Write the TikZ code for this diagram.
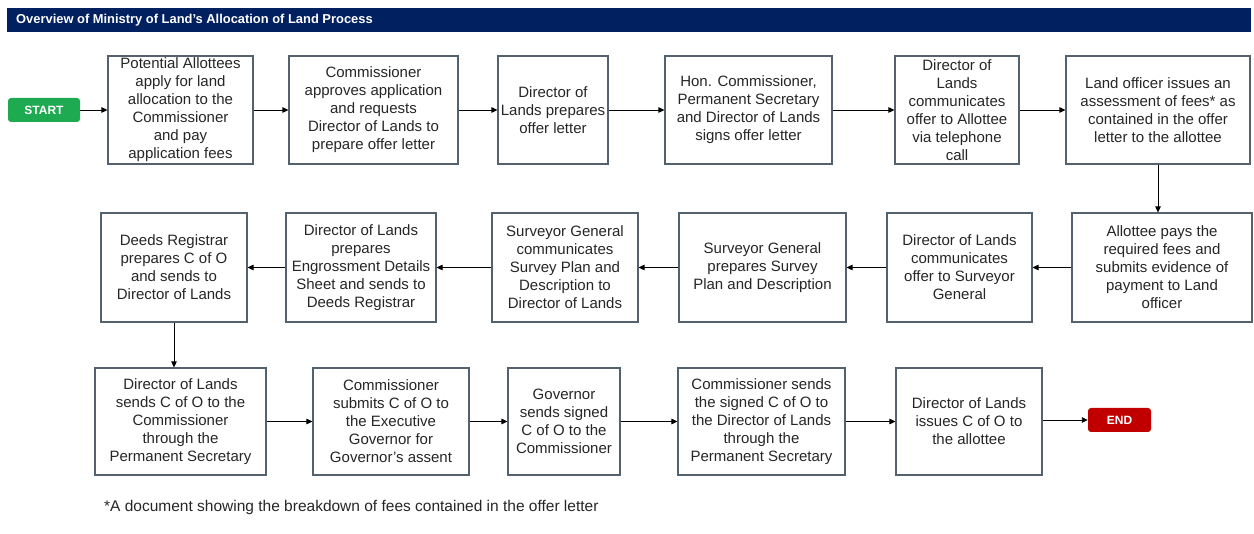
\documentclass[tikz,border=0pt]{standalone}
\usepackage{fontspec}
\setmainfont{Liberation Sans}
\usetikzlibrary{arrows.meta}
\definecolor{navy}{RGB}{0,32,96}
\definecolor{boxline}{RGB}{84,98,112}
\definecolor{startgreen}{RGB}{30,170,80}
\definecolor{endred}{RGB}{192,0,0}
\tikzset{
  box/.style={draw=boxline, line width=1.1pt, fill=white, align=center, inner sep=0pt,
    font=\fontsize{15}{18}\selectfont, text=black!85},
  term/.style={rounded corners=3pt, inner sep=0pt, text=white, font=\fontsize{12}{14}\selectfont\bfseries},
  arr/.style={draw=black, line width=0.9pt, -{Triangle[length=6pt,width=5.5pt]}}
}
\begin{document}
\begin{tikzpicture}[x=1pt,y=-1pt]
\useasboundingbox (0,0) rectangle (1254,534);
% title bar
\fill[navy] (7,8) rectangle (1251,32);
\node[anchor=west, text=white, font=\fontsize{12.9}{14}\selectfont\bfseries, inner sep=0pt] (title) at (16,20) {Overview of Ministry of Land’s Allocation of Land Process};
% row 1
\node[term, fill=startgreen, minimum width=72pt, minimum height=24pt] (start) at (44,110) {START};
\node[box, minimum width=145pt, minimum height=108pt] (b1) at (180.5,110) {Potential Allottees\\apply for land\\allocation to the\\Commissioner\\and pay\\application fees};
\node[box, minimum width=169pt, minimum height=108pt] (b2) at (373.5,110) {Commissioner\\approves application\\and requests\\Director of Lands to\\prepare offer letter};
\node[box, minimum width=110pt, minimum height=108pt] (b3) at (553,110) {Director of\\Lands prepares\\offer letter};
\node[box, minimum width=167pt, minimum height=108pt] (b4) at (748.5,110) {Hon. Commissioner,\\Permanent Secretary\\and Director of Lands\\signs offer letter};
\node[box, minimum width=124pt, minimum height=108pt] (b5) at (957,110) {Director of\\Lands\\communicates\\offer to Allottee\\via telephone\\call};
\node[box, minimum width=184pt, minimum height=108pt] (b6) at (1158,110) {Land officer issues an\\assessment of fees* as\\contained in the offer\\letter to the allottee};
% row 2
\node[box, minimum width=180pt, minimum height=109pt] (r6) at (1162,267.5) {Allottee pays the\\required fees and\\submits evidence of\\payment to Land\\officer};
\node[box, minimum width=145pt, minimum height=109pt] (r5) at (959.5,267.5) {Director of Lands\\communicates\\offer to Surveyor\\General};
\node[box, minimum width=167pt, minimum height=109pt] (r4) at (762.5,267.5) {Surveyor General\\prepares Survey\\Plan and Description};
\node[box, minimum width=146pt, minimum height=109pt] (r3) at (565,267.5) {Surveyor General\\communicates\\Survey Plan and\\Description to\\Director of Lands};
\node[box, minimum width=150pt, minimum height=109pt] (r2) at (361,267.5) {Director of Lands\\prepares\\Engrossment Details\\Sheet and sends to\\Deeds Registrar};
\node[box, minimum width=146pt, minimum height=109pt] (r1) at (174,267.5) {Deeds Registrar\\prepares C of O\\and sends to\\Director of Lands};
% row 3
\node[box, minimum width=171pt, minimum height=107pt] (c1) at (180.5,421.5) {Director of Lands\\sends C of O to the\\Commissioner\\through the\\Permanent Secretary};
\node[box, minimum width=156pt, minimum height=107pt] (c2) at (391,421.5) {Commissioner\\submits C of O to\\the Executive\\Governor for\\Governor’s assent};
\node[box, minimum width=112pt, minimum height=107pt] (c3) at (564,421.5) {Governor\\sends signed\\C of O to the\\Commissioner};
\node[box, minimum width=167pt, minimum height=107pt] (c4) at (761.5,421.5) {Commissioner sends\\the signed C of O to\\the Director of Lands\\through the\\Permanent Secretary};
\node[box, minimum width=146pt, minimum height=107pt] (c5) at (969,421.5) {Director of Lands\\issues C of O to\\the allottee};
\node[term, fill=endred, minimum width=63pt, minimum height=24pt] (end) at (1119.5,420) {END};
% footnote
\node[anchor=west, inner sep=0pt, font=\fontsize{15.5}{17}\selectfont, text=black!85] (note) at (104,507) {*A document showing the breakdown of fees contained in the offer letter};
% connectors
\draw[arr] (start.east) -- (b1.west);
\draw[arr] (b1) -- (b2);
\draw[arr] (b2) -- (b3);
\draw[arr] (b3) -- (b4);
\draw[arr] (b4) -- (b5);
\draw[arr] (b5) -- (b6);
\draw[arr] (b6.south) -- (b6.south |- r6.north);
\draw[arr] (r6) -- (r5);
\draw[arr] (r5) -- (r4);
\draw[arr] (r4) -- (r3);
\draw[arr] (r3) -- (r2);
\draw[arr] (r2) -- (r1);
\draw[arr] (r1.south) -- (r1.south |- c1.north);
\draw[arr] (c1) -- (c2);
\draw[arr] (c2) -- (c3);
\draw[arr] (c3) -- (c4);
\draw[arr] (c4) -- (c5);
\draw[arr] (c5.east |- end.west) -- (end.west);
\end{tikzpicture}
\end{document}
